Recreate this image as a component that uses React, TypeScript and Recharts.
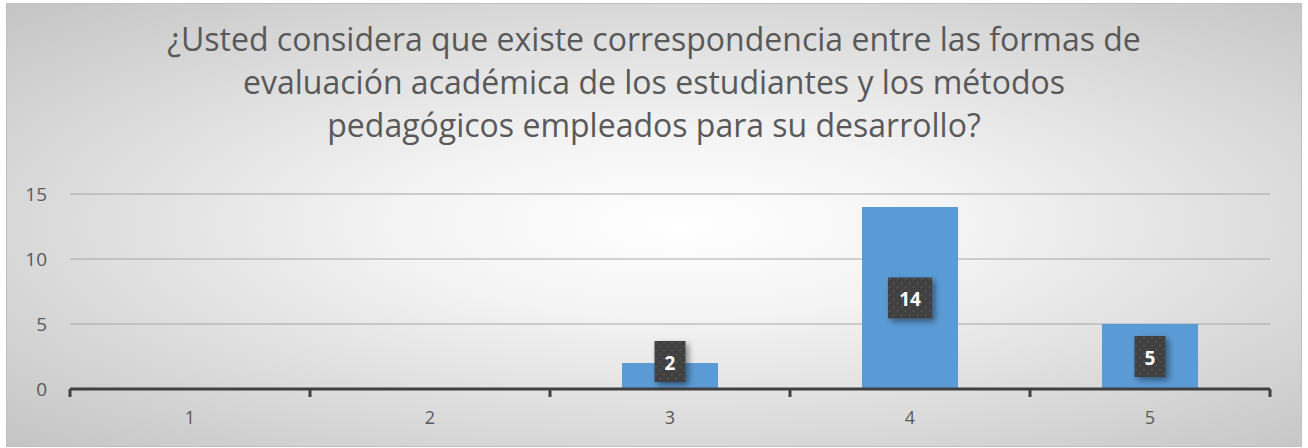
import React from "react";
import { BarChart, Bar, XAxis, YAxis, CartesianGrid, LabelList } from "recharts";

const categories = ["1", "2", "3", "4", "5"];
const counts = [0, 0, 2, 14, 5];
const yTicks = [0, 5, 10, 15];
const titleLines = [
  "¿Usted considera que existe correspondencia entre las formas de",
  "evaluación académica de los estudiantes y los métodos",
  "pedagógicos empleados para su desarrollo?",
];

const data = categories.map((c, i) => ({ cat: c, value: counts[i] }));

const FONT = "'Open Sans', 'Noto Sans', sans-serif";
const CHART_W = 1308;
const CHART_H = 448;
const MARGIN = { top: 194, right: 38, bottom: 29, left: 10 };
const Y_AXIS_W = 60;
const PLOT_W = CHART_W - MARGIN.left - MARGIN.right - Y_AXIS_W;
const BAND = PLOT_W / categories.length;
const X_TICK_MARGIN = 14;
const X_TICK_SIZE = 6;

const DataLabel = (props: any) => {
  const { x, y, width, height, value, index } = props;
  if (!value) return null;
  const txt = String(value);
  const boxW = txt.length > 1 ? 44 : 31;
  const boxH = 41;
  const cx = x + width / 2;
  const bottom = y + height;
  let cy = y + height / 2;
  if (cy + boxH / 2 > bottom - 7) cy = bottom - 7 - boxH / 2;
  const pid = `dots-${index}`;
  const fid = `shadow-${index}`;
  return (
    <g>
      <defs>
        <pattern id={pid} width={8} height={8} patternUnits="userSpaceOnUse" x={cx - boxW / 2} y={cy - boxH / 2}>
          <rect width={8} height={8} fill="#404040" />
          <rect x={1} y={1} width={1.2} height={1.2} fill="#6a6a6a" />
          <rect x={5} y={5} width={1.2} height={1.2} fill="#6a6a6a" />
        </pattern>
        <filter id={fid} x="-50%" y="-50%" width="200%" height="200%">
          <feDropShadow dx={3} dy={3} stdDeviation={3} floodColor="#000" floodOpacity={0.45} />
        </filter>
      </defs>
      <rect x={cx - boxW / 2} y={cy - boxH / 2} width={boxW} height={boxH} fill={`url(#${pid})`} filter={`url(#${fid})`} />
      <text x={cx} y={cy + 1} textAnchor="middle" dominantBaseline="central" fill="#ffffff" fontFamily={FONT} fontWeight={700} fontSize={19}>
        {txt}
      </text>
    </g>
  );
};

const XTick = (props: any) => {
  const { x, y, payload, index } = props;
  const axisY = y - X_TICK_MARGIN - X_TICK_SIZE;
  const left = x - BAND / 2;
  const right = x + BAND / 2;
  return (
    <g>
      <line x1={left} y1={axisY} x2={left} y2={axisY + 8} stroke="#404040" strokeWidth={3} />
      {index === categories.length - 1 && (
        <line x1={right} y1={axisY} x2={right} y2={axisY + 8} stroke="#404040" strokeWidth={3} />
      )}
      <text x={x} y={axisY + 28} textAnchor="middle" dominantBaseline="central" fill="#595959" fontSize={18} fontFamily={FONT}>
        {payload.value}
      </text>
    </g>
  );
};

export default function App() {
  return (
    <div style={{ position: "absolute", left: 0, top: 0, width: CHART_W, height: CHART_H, overflow: "hidden" }}>
      <div
        style={{
          position: "absolute",
          left: 6,
          top: 3,
          width: 1294,
          height: 442,
          border: "1px solid #bfbfbf",
          background: "radial-gradient(ellipse farthest-corner at 52% 50%, #ffffff 0%, #f3f3f3 30%, #c4c4c4 100%)",
        }}
      />
      <div style={{ position: "absolute", left: 0, top: 0, width: CHART_W, textAlign: "center", fontFamily: FONT, color: "#595959", fontSize: 32, lineHeight: "43px", paddingTop: 17 }}>
        {titleLines.map((l, i) => (
          <div key={i}>{l}</div>
        ))}
      </div>
      <div style={{ position: "absolute", left: 0, top: 0 }}>
        <BarChart width={CHART_W} height={CHART_H} data={data} margin={MARGIN} barCategoryGap="30%">
          <CartesianGrid horizontal vertical={false} stroke="#a6a6a6" strokeWidth={1} />
          <XAxis
            dataKey="cat"
            height={30}
            axisLine={{ stroke: "#404040", strokeWidth: 3 }}
            tickLine={false}
            tick={<XTick />}
            tickSize={X_TICK_SIZE}
            tickMargin={X_TICK_MARGIN}
            interval={0}
          />
          <YAxis
            width={Y_AXIS_W}
            domain={[0, 15]}
            ticks={yTicks}
            axisLine={false}
            tickLine={false}
            tickMargin={17}
            tick={{ fill: "#595959", fontSize: 19, fontFamily: FONT }}
          />
          <Bar dataKey="value" fill="#5b9bd5" isAnimationActive={false}>
            <LabelList dataKey="value" content={DataLabel} />
          </Bar>
        </BarChart>
      </div>
    </div>
  );
}
